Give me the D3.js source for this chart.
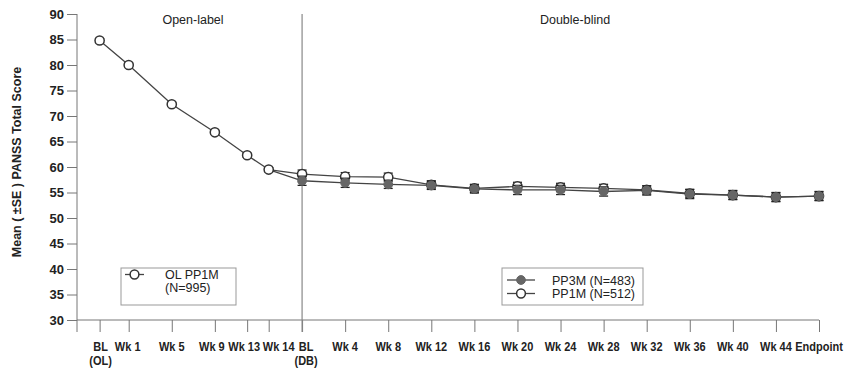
<!DOCTYPE html>
<html>
<head>
<meta charset="utf-8">
<script src="https://cdn.jsdelivr.net/npm/d3@7"></script>
<style>
  body { margin: 0; background: #fff; }
  svg { font-family: "Liberation Sans", Arial, sans-serif; }
</style>
</head>
<body>
<div id="chart"></div>
<script>
// visit labels + their plotting position (weeks, DB baseline = 0)
var visits = ["BL|(OL)", "Wk 1", "Wk 5", "Wk 9", "Wk 13", "Wk 14", "BL|(DB)", "Wk 4", "Wk 8", "Wk 12",
    "Wk 16", "Wk 20", "Wk 24", "Wk 28", "Wk 32", "Wk 36", "Wk 40", "Wk 44", "Endpoint"]
var visitPos = [-18.8, -16.1, -12.1, -8.1, -5.1, -3.1, 0, 4, 8, 12, 16, 20, 24, 28, 32, 36, 40, 44, 48]
// small nudges so crowded labels don't collide (px)
var labelShift = [1, -1, 0, -3, -3, 10, 4, 0, 0, 0, 0, 0, 0, 0, 0, 0, 0, 0, 0]

// open-label phase (first 6 visits)
var olMean = [84.8, 80.0, 72.3, 66.8, 62.3, 59.5]
var olSE = [0.4, 0.4, 0.4, 0.4, 0.4, 0.4]

// double-blind phase (BL(DB) .. Endpoint)
var pp3mMean = [57.3, 56.9, 56.6, 56.4, 55.7, 55.5, 55.5, 55.2, 55.4, 54.7, 54.5, 54.1, 54.3]
var pp3mSE = [0.9, 0.9, 0.8, 0.8, 0.8, 0.9, 0.9, 0.9, 0.9, 0.9, 0.9, 0.9, 0.9]
var pp1mMean = [58.6, 58.1, 58.0, 56.5, 55.8, 56.2, 56.0, 55.8, 55.5, 54.8, 54.5, 54.1, 54.3]
var pp1mSE = [0.8, 0.8, 0.8, 0.8, 0.8, 0.8, 0.8, 0.8, 0.8, 0.8, 0.8, 0.8, 0.8]

var yTicks = [30, 35, 40, 45, 50, 55, 60, 65, 70, 75, 80, 85, 90]

var width = 845, height = 369
var margin = {top: 14, left: 77, right: 26, bottom: 49}

var svg = d3.select("#chart").append("svg")
    .attr("width", width)
    .attr("height", height)

var x = d3.scaleLinear().domain([-20.9, 48]).range([margin.left, width - margin.right])
var y = d3.scaleLinear().domain([30, 90]).range([height - margin.bottom, margin.top])

var axisCol = "#777", lineCol = "#444", dotCol = "#666", textCol = "#222"

// y axis
var yAxis = svg.append("g")
    .attr("transform", `translate(${margin.left},0)`)
    .call(d3.axisLeft(y).tickValues(yTicks).tickSize(10).tickPadding(3))
yAxis.select(".domain").remove()
yAxis.append("line")
    .attr("x1", 0).attr("x2", 0)
    .attr("y1", y(90)).attr("y2", y(30) + 12)
    .attr("stroke", axisCol)
yAxis.selectAll(".tick line").attr("stroke", axisCol)
yAxis.selectAll(".tick text")
    .attr("fill", textCol)
    .attr("font-size", "13px")
    .attr("font-weight", "bold")
    .attr("font-family", "Liberation Sans, Arial, sans-serif")

// x axis
var xAxis = svg.append("g")
    .attr("transform", `translate(0,${y(30)})`)
    .call(d3.axisBottom(x).tickValues(visitPos).tickSize(12).tickFormat(""))
xAxis.select(".domain").attr("stroke", axisCol).attr("d", `M${x(-20.9)},0H${x(48)}`)
xAxis.selectAll(".tick line").attr("stroke", axisCol)

var xLab = svg.append("g")
    .selectAll("text")
    .data(visits)
    .enter()
    .append("text")
    .attr("transform", (d, i) => `translate(${x(visitPos[i]) + labelShift[i]},${y(30) + 31}) scale(0.88,1)`)
    .attr("text-anchor", "middle")
    .attr("font-size", "12.5px")
    .attr("font-weight", "bold")
    .attr("fill", textCol)
xLab.each(function(d) {
    var parts = d.split("|")
    var t = d3.select(this)
    parts.forEach((p, k) => {
        t.append("tspan").attr("x", 0).attr("dy", k == 0 ? 0 : 14).text(p)
    })
})

// y title
svg.append("text")
    .attr("transform", `translate(21,${(y(30) + y(90)) / 2 - 5}) rotate(-90)`)
    .attr("text-anchor", "middle")
    .attr("font-size", "12.5px")
    .attr("font-weight", "bold")
    .attr("fill", textCol)
    .text("Mean ( \u00B1SE ) PANSS Total Score")

// phase divider
svg.append("line")
    .attr("x1", x(0)).attr("x2", x(0))
    .attr("y1", y(90)).attr("y2", y(30) + 12)
    .attr("stroke", "#888").attr("stroke-width", 1.2)

svg.append("text").attr("x", 193).attr("y", 24)
    .attr("text-anchor", "middle").attr("font-size", "12.5px").attr("fill", textCol)
    .text("Open-label")
svg.append("text").attr("x", 575).attr("y", 24)
    .attr("text-anchor", "middle").attr("font-size", "12.5px").attr("fill", textCol)
    .text("Double-blind")

// build point data
var olData = olMean.map((m, i) => ({pos: visitPos[i], mean: m, se: olSE[i]}))
var dbStart = 6
var pp3mData = pp3mMean.map((m, i) => ({pos: visitPos[dbStart + i], mean: m, se: pp3mSE[i]}))
var pp1mData = pp1mMean.map((m, i) => ({pos: visitPos[dbStart + i], mean: m, se: pp1mSE[i]}))

var line = d3.line().x(d => x(d.pos)).y(d => y(d.mean))
var last = olData[olData.length - 1]

function drawLine(data) {
    svg.append("path")
        .datum(data)
        .attr("d", line)
        .attr("fill", "none")
        .attr("stroke", lineCol)
        .attr("stroke-width", 1.3)
}

function drawErr(data) {
    var g = svg.append("g").attr("stroke", "#222").attr("stroke-width", 1.3)
    data.forEach(d => {
        g.append("line").attr("x1", x(d.pos)).attr("x2", x(d.pos))
            .attr("y1", y(d.mean - d.se)).attr("y2", y(d.mean + d.se))
        ;[d.mean - d.se, d.mean + d.se].forEach(v => {
            g.append("line").attr("x1", x(d.pos) - 4.5).attr("x2", x(d.pos) + 4.5)
                .attr("y1", y(v)).attr("y2", y(v))
        })
    })
}

function drawDots(data, open) {
    svg.append("g")
        .selectAll("circle")
        .data(data)
        .enter()
        .append("circle")
        .attr("cx", d => x(d.pos))
        .attr("cy", d => y(d.mean))
        .attr("r", open ? 4.6 : 4.4)
        .attr("fill", open ? "#fff" : dotCol)
        .attr("stroke", open ? "#333" : dotCol)
        .attr("stroke-width", open ? 1.5 : 1)
}

drawLine(olData)
drawLine([last].concat(pp1mData))
drawLine([last].concat(pp3mData))

drawErr(olData)
drawErr(pp1mData)
drawDots(olData, true)
drawDots(pp1mData, true)
drawErr(pp3mData)
drawDots(pp3mData, false)

// legends
function legend(x0, y0, w, h, items) {
    var g = svg.append("g")
    g.append("rect").attr("x", x0).attr("y", y0).attr("width", w).attr("height", h)
        .attr("fill", "#fff").attr("stroke", "#999").attr("stroke-width", 1)
    items.forEach(it => {
        g.append("line").attr("x1", it.lx).attr("x2", it.lx + it.lw)
            .attr("y1", it.ly).attr("y2", it.ly).attr("stroke", lineCol).attr("stroke-width", 1.3)
        g.append("circle").attr("cx", it.lx + it.lw / 2).attr("cy", it.ly).attr("r", 4.4)
            .attr("fill", it.open ? "#fff" : dotCol)
            .attr("stroke", it.open ? "#333" : dotCol).attr("stroke-width", it.open ? 1.5 : 1)
        it.text.forEach((t, k) => {
            g.append("text").attr("x", it.tx).attr("y", it.ty + k * 13)
                .attr("font-size", "12.5px").attr("fill", textCol).text(t)
        })
    })
}

legend(121, 268, 115, 37, [
    {lx: 125, lw: 19, ly: 274.5, open: true, tx: 165, ty: 278.5, text: ["OL PP1M", "(N=995)"]}
])
legend(502, 268, 141, 37, [
    {lx: 507, lw: 28, ly: 280, open: false, tx: 552, ty: 284.5, text: ["PP3M (N=483)"]},
    {lx: 507, lw: 28, ly: 293.5, open: true, tx: 552, ty: 298, text: ["PP1M (N=512)"]}
])
</script>
</body>
</html>
